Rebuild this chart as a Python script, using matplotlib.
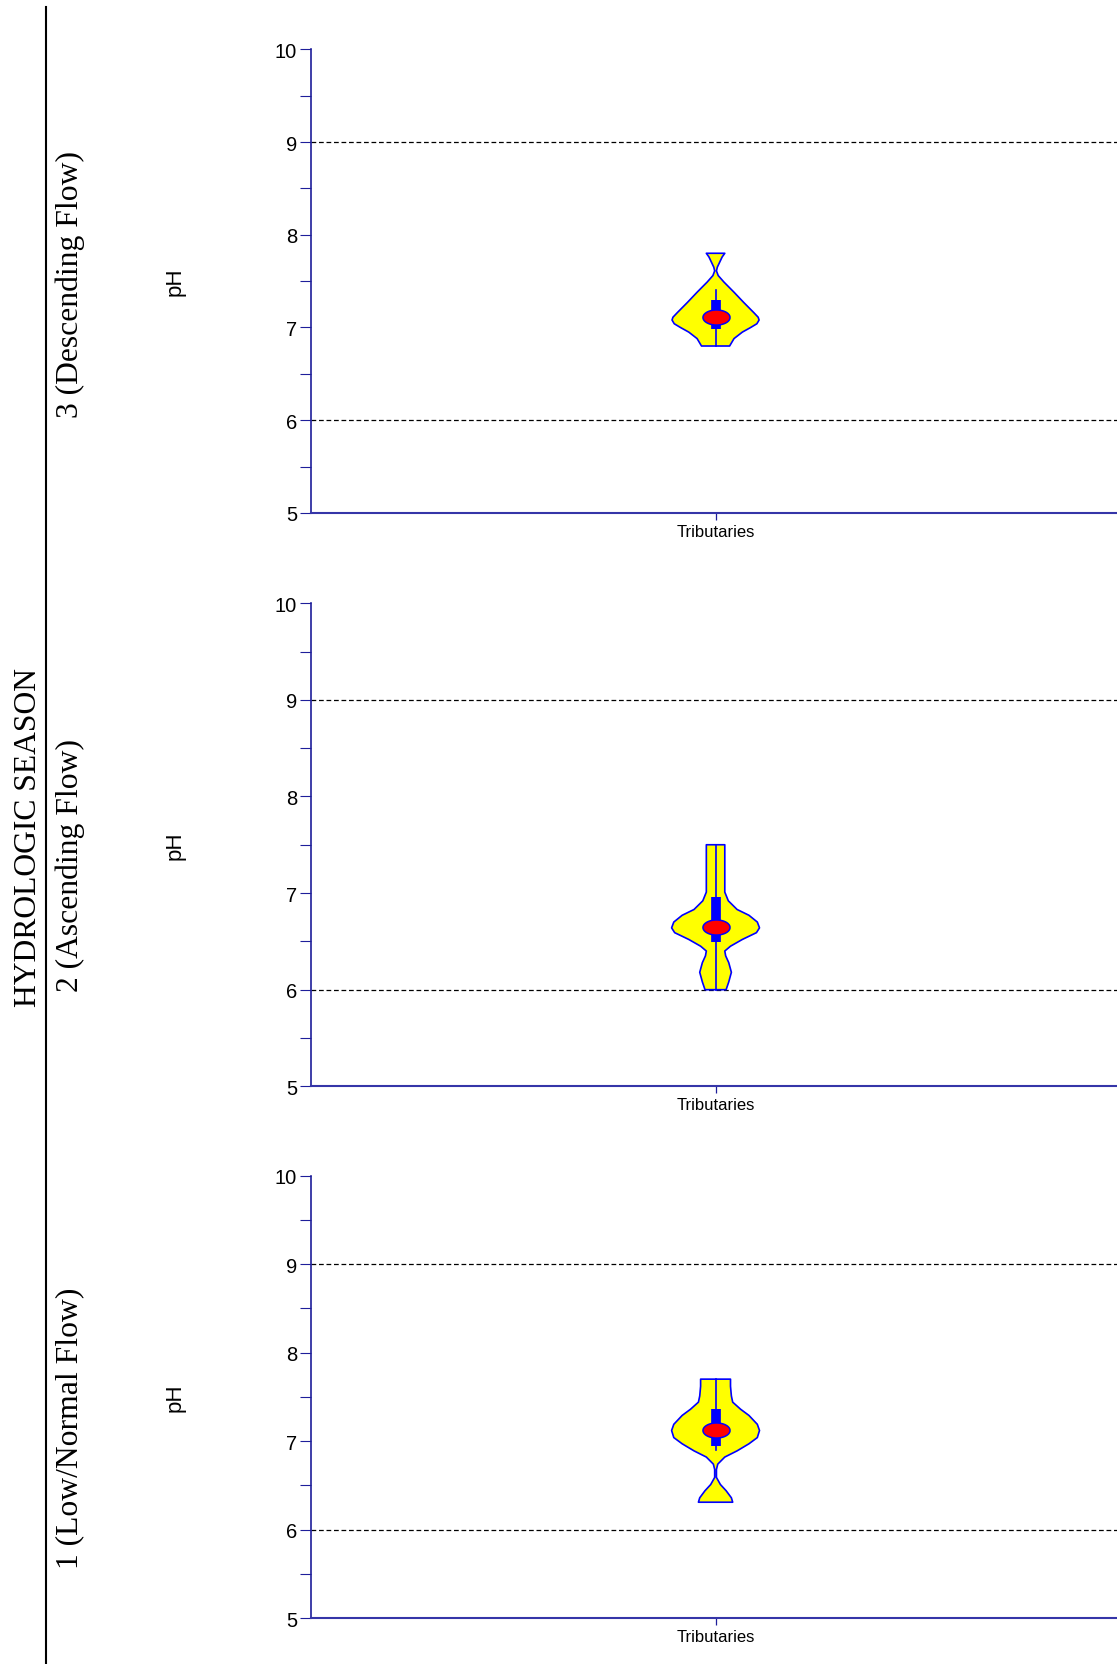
import numpy as np
import matplotlib
matplotlib.use('Agg')
import matplotlib.pyplot as plt
from matplotlib.path import Path
from matplotlib.lines import Line2D

plt.rcParams['font.family'] = ['Liberation Sans', 'DejaVu Sans']

# ---- data ----
seasons = ['3 (Descending Flow)', '2 (Ascending Flow)', '1 (Low/Normal Flow)']
group_title = 'HYDROLOGIC SEASON'
site = 'Tributaries'
ph_guides = [6, 9]

# violin outlines: pH level and relative half-width (1 = widest)
s3_ph = [7.80, 7.76, 7.70, 7.65, 7.61, 7.56, 7.49, 7.38, 7.27, 7.16, 7.11,
         7.08, 7.04, 7.00, 6.95, 6.88, 6.80]
s3_w = [0.21, 0.15, 0.09, 0.04, 0.02, 0.06, 0.19, 0.42, 0.64, 0.87, 0.97,
        0.99, 0.94, 0.80, 0.61, 0.42, 0.32]

s2_ph = [7.50, 7.01, 6.92, 6.83, 6.77, 6.70, 6.64, 6.59, 6.52, 6.45, 6.40,
         6.35, 6.28, 6.18, 6.08, 6.00]
s2_w = [0.21, 0.21, 0.29, 0.49, 0.76, 0.95, 1.00, 0.93, 0.61, 0.34, 0.21,
        0.23, 0.30, 0.36, 0.30, 0.24]

s1_ph = [7.70, 7.62, 7.51, 7.44, 7.36, 7.29, 7.19, 7.12, 7.04, 6.97, 6.89,
         6.82, 6.74, 6.68, 6.59, 6.51, 6.44, 6.36, 6.31]
s1_w = [0.34, 0.34, 0.36, 0.39, 0.57, 0.76, 0.95, 1.00, 0.95, 0.76, 0.49,
        0.21, 0.05, 0.02, 0.02, 0.11, 0.24, 0.36, 0.39]

# whisker low, q1, median, q3, whisker high
s3_box = [6.80, 6.98, 7.11, 7.30, 7.40]
s2_box = [6.00, 6.49, 6.65, 6.96, 7.50]
s1_box = [6.90, 6.94, 7.12, 7.36, 7.70]

profiles = [(s3_ph, s3_w, s3_box), (s2_ph, s2_w, s2_box), (s1_ph, s1_w, s1_box)]

# ---- layout (figure pixels) ----
W, H = 1117, 1665
fig = plt.figure(figsize=(W / 100, H / 100), dpi=100)

ax_left, ax_width = 311, 814
panel_y = [(50.3, 513.9), (604.2, 1087.3), (1176.5, 1619.2)]  # (top, bottom)
label_y = [285, 866, 1428]

navy = '#1e1e9a'
half_w = 0.054

t = np.linspace(0, 2 * np.pi, 80)
ellipse = Path(np.column_stack([1.8 * np.cos(t), np.sin(t)]))

for (top, bot), (ph, w, box), name, ly in zip(panel_y, profiles, seasons, label_y):
    ax = fig.add_axes([ax_left / W, 1 - bot / H, ax_width / W, (bot - top) / H])
    ax.set_xlim(-0.497, 0.503)
    ax.set_ylim(5, 10)

    for g in ph_guides:
        ax.axhline(g, color='black', lw=0.9, dashes=(3.8, 2.2), zorder=1)

    ph = np.asarray(ph)
    w = np.asarray(w) * half_w
    ax.fill(np.concatenate([-w, w[::-1]]), np.concatenate([ph, ph[::-1]]),
            facecolor='#ffff00', edgecolor='#0000ff', lw=1.2, zorder=2,
            joinstyle='round')

    lo, q1, med, q3, hi = box
    ax.plot([0, 0], [lo, hi], color='#0000ff', lw=1.2, zorder=3)
    ax.plot([0, 0], [q1, q3], color='#0000ff', lw=7, solid_capstyle='butt',
            zorder=3)
    ax.plot([0], [med], marker=ellipse, ms=19.5, mfc='#ff0000', mec='#0000ff',
            mew=1.1, zorder=4)

    for s in ['top', 'right']:
        ax.spines[s].set_visible(False)
    ax.spines['left'].set_color(navy)
    ax.spines['left'].set_linewidth(1.2)
    ax.spines['bottom'].set_color('#3535a8')
    ax.spines['bottom'].set_linewidth(1.5)

    ax.set_yticks(range(5, 11))
    ax.set_yticks(np.arange(5.5, 10, 1.0), minor=True)
    ax.tick_params(axis='y', which='both', direction='out', length=8,
                   width=0.8, color=navy, labelsize=14.5, pad=2)
    ax.set_xticks([0])
    ax.set_xticklabels([site])
    ax.tick_params(axis='x', direction='out', length=5, width=0.9,
                   color=navy, labelsize=12, pad=3)

    ax.text((175 - ax_left) / ax_width, 0.5, 'pH', transform=ax.transAxes,
            rotation=90, ha='center', va='center', fontsize=16)

    fig.text(70 / W, 1 - ly / H, name, rotation=90, ha='center', va='center',
             fontsize=22.8, family='Liberation Serif')

fig.text(29 / W, 1 - 838 / H, group_title, rotation=90, ha='center',
         va='center', fontsize=22.8, family='Liberation Serif')

fig.add_artist(Line2D([46 / W, 46 / W], [0, 1 - 7.5 / H], color='black',
                      lw=1.5, transform=fig.transFigure))

fig.savefig('out.png', dpi=100)
